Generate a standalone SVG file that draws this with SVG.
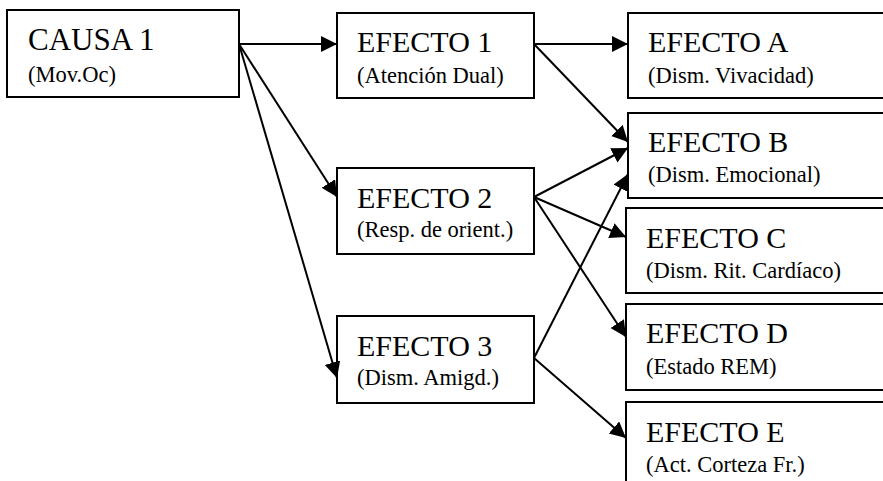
<svg xmlns="http://www.w3.org/2000/svg" width="883" height="481" viewBox="0 0 883 481">
<style>
.box{fill:#fff;stroke:#000;stroke-width:2}
.t{font-family:"Liberation Serif","Times New Roman",serif;font-size:30px;fill:#000}
.s{font-family:"Liberation Serif","Times New Roman",serif;font-size:22.5px;fill:#000}
.c line{stroke:#000;stroke-width:2;marker-end:url(#ah)}
</style>
<defs>
<marker id="ah" markerUnits="userSpaceOnUse" markerWidth="18" markerHeight="18" refX="16" refY="8" orient="auto">
<path d="M0,0 L16,8 L0,16 z" fill="#000"/>
</marker>
</defs>
<rect width="883" height="481" fill="#fff"/>
<g id="causa1"><rect class="box" x="7" y="10" width="232" height="87"/><text class="t" x="28" y="50" style="font-size:31px">CAUSA 1</text><text class="s" x="28" y="82">(Mov.Oc)</text></g>
<g id="efecto1"><rect class="box" x="337" y="13" width="197" height="85"/><text class="t" x="357" y="52">EFECTO 1</text><text class="s" x="357" y="83">(Atención Dual)</text></g>
<g id="efecto2"><rect class="box" x="337" y="168" width="197" height="86"/><text class="t" x="357" y="208">EFECTO 2</text><text class="s" x="357" y="237">(Resp. de orient.)</text></g>
<g id="efecto3"><rect class="box" x="337" y="316" width="197" height="87"/><text class="t" x="357" y="356">EFECTO 3</text><text class="s" x="357" y="385">(Dism. Amigd.)</text></g>
<g id="efectoA"><rect class="box" x="628" y="13" width="280" height="85"/><text class="t" x="648" y="52">EFECTO A</text><text class="s" x="648" y="83">(Dism. Vivacidad)</text></g>
<g id="efectoB"><rect class="box" x="628" y="113" width="280" height="85"/><text class="t" x="648" y="152">EFECTO B</text><text class="s" x="648" y="182">(Dism. Emocional)</text></g>
<g id="efectoC"><rect class="box" x="626" y="208" width="280" height="85"/><text class="t" x="646" y="248">EFECTO C</text><text class="s" x="646" y="278">(Dism. Rit. Cardíaco)</text></g>
<g id="efectoD"><rect class="box" x="626" y="304" width="280" height="86"/><text class="t" x="646" y="343">EFECTO D</text><text class="s" x="646" y="374">(Estado REM)</text></g>
<g id="efectoE"><rect class="box" x="626" y="402" width="280" height="100"/><text class="t" x="646" y="442">EFECTO E</text><text class="s" x="646" y="472">(Act. Corteza Fr.)</text></g>
<g id="connectors" class="c">
<line x1="239" y1="44" x2="337" y2="44"/>
<line x1="239" y1="44" x2="337" y2="197"/>
<line x1="239" y1="44" x2="337" y2="378"/>
<line x1="534" y1="44" x2="628" y2="44"/>
<line x1="534" y1="44" x2="628" y2="142"/>
<line x1="534" y1="197" x2="628" y2="148"/>
<line x1="534" y1="197" x2="626" y2="237"/>
<line x1="534" y1="197" x2="626" y2="337"/>
<line x1="534" y1="358" x2="628" y2="174"/>
<line x1="534" y1="358" x2="626" y2="438"/>
</g>
</svg>
